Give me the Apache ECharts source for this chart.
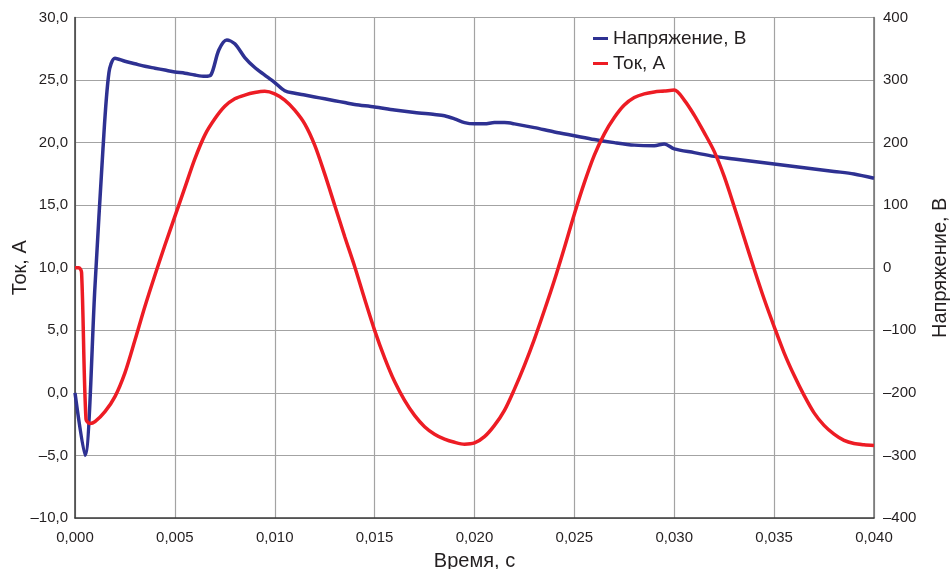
<!DOCTYPE html>
<html>
<head>
<meta charset="utf-8">
<script src="https://cdn.jsdelivr.net/npm/echarts@6/dist/echarts.min.js"></script>
<style>
    html, body { margin: 0; padding: 0; background: #fff; }
    #chart { width: 952px; height: 569px; }
</style>
</head>
<body>
<div id="chart"></div>
<script>
var seriesNames = ['Напряжение, В', 'Ток, А'];

// Ток, А (левая ось)
var currentTime = [0, 0.0002, 0.00033, 0.00055, 0.00075, 0.001, 0.0015, 0.002, 0.0025, 0.003,
    0.0035, 0.004, 0.0045, 0.005, 0.0055, 0.006, 0.0065, 0.007, 0.0075, 0.008,
    0.0085, 0.009, 0.0095, 0.010, 0.0105, 0.011, 0.0115, 0.012, 0.0125, 0.013,
    0.0135, 0.014, 0.0145, 0.015, 0.0155, 0.016, 0.0165, 0.017, 0.0175, 0.018,
    0.0185, 0.019, 0.0195, 0.020, 0.0205, 0.021, 0.0215, 0.022, 0.0225, 0.023,
    0.0235, 0.024, 0.0245, 0.025, 0.0255, 0.026, 0.0265, 0.027, 0.0275, 0.028,
    0.0285, 0.029, 0.0295, 0.030, 0.0305, 0.031, 0.0315, 0.032, 0.0325, 0.033,
    0.0335, 0.034, 0.0345, 0.035, 0.0355, 0.036, 0.0365, 0.037, 0.0375, 0.038,
    0.0385, 0.039, 0.0395, 0.040];
var currentValues = [10.0, 10.0, 9.6, -2.1, -2.45, -2.3, -1.5, -0.3, 1.6, 4.2,
    6.9, 9.4, 11.8, 14.1, 16.4, 18.7, 20.6, 21.9, 22.9, 23.5,
    23.8, 24.0, 24.1, 23.9, 23.4, 22.6, 21.5, 19.8, 17.5, 15.0,
    12.5, 10.1, 7.5, 5.0, 2.8, 0.9, -0.6, -1.8, -2.7, -3.3,
    -3.7, -3.95, -4.1, -4.0, -3.5, -2.6, -1.4, 0.3, 2.2, 4.3,
    6.6, 9.0, 11.6, 14.3, 16.8, 19.0, 20.7, 22.0, 23.0, 23.6,
    23.9, 24.05, 24.12, 24.2, 23.4, 22.2, 20.8, 19.3, 17.3, 14.9,
    12.4, 9.9, 7.5, 5.3, 3.2, 1.4, -0.2, -1.6, -2.6, -3.3,
    -3.8, -4.05, -4.15, -4.2];

// Напряжение, В (правая ось)
var voltageTime = [0, 0.0005, 0.001, 0.0014, 0.0017, 0.002, 0.0025, 0.003, 0.0035, 0.004,
    0.0045, 0.005, 0.0055, 0.006, 0.0065, 0.0068, 0.0072, 0.0076, 0.008, 0.0085,
    0.009, 0.0095, 0.010, 0.0105, 0.011, 0.0115, 0.012, 0.0125, 0.013, 0.0135,
    0.014, 0.015, 0.016, 0.017, 0.018, 0.0185, 0.019, 0.0195, 0.020, 0.0205,
    0.021, 0.0215, 0.022, 0.023, 0.024, 0.025, 0.026, 0.027, 0.028, 0.029,
    0.0295, 0.030, 0.031, 0.032, 0.033, 0.034, 0.035, 0.036, 0.037, 0.038,
    0.039, 0.040];
var voltageValues = [-200, -300, -30, 190, 312, 335, 330, 326, 322, 319,
    316, 313, 311, 308, 306, 308, 348, 364, 358, 336,
    320, 308, 296, 283, 279, 276, 273, 270, 267, 264,
    261, 257, 252, 248, 245, 243, 238, 232, 230, 230,
    232, 232, 230, 224, 217, 211, 205, 200, 196, 195,
    198, 190, 184, 178, 174, 170, 166, 162, 158, 154,
    150, 143];

function pairs(xs, ys) {
    return xs.map(function (x, i) { return [x, ys[i]]; });
}

function dash(s) {
    return s.replace('-', '–');
}

var font = "'Liberation Sans', Arial, sans-serif";
var textColor = '#231f20';

var dom = document.getElementById('chart');
var myChart = echarts.init(dom);
myChart.setOption({
    animation: false,
    textStyle: { fontFamily: font },
    grid: { left: 75, right: 78, top: 17.5, bottom: 51, outerBoundsMode: 'none', containLabel: false },
    legend: {
        orient: 'vertical',
        left: 588,
        top: 24,
        itemWidth: 15,
        itemHeight: 3,
        itemGap: 6,
        icon: 'rect',
        data: seriesNames,
        textStyle: { fontFamily: font, fontSize: 19, color: textColor }
    },
    xAxis: {
        type: 'value',
        min: 0,
        max: 0.04,
        interval: 0.005,
        name: 'Время, с',
        nameLocation: 'middle',
        nameGap: 33,
        nameMoveOverlap: false,
        nameTextStyle: { fontFamily: font, fontSize: 20, color: textColor },
        axisLine: { onZero: false, lineStyle: { color: '#3a3a3a', width: 1.5 } },
        axisTick: { show: false },
        axisLabel: {
            margin: 12,
            fontSize: 15,
            color: textColor,
            formatter: function (v) { return v.toFixed(3).replace('.', ','); }
        },
        splitLine: { show: true, lineStyle: { color: '#a3a3a3', width: 1.2 } }
    },
    yAxis: [
        {
            type: 'value',
            min: -10,
            max: 30,
            interval: 5,
            name: 'Ток, А',
            nameLocation: 'middle',
            nameGap: 45,
            nameMoveOverlap: false,
            nameTextStyle: { fontFamily: font, fontSize: 20, color: textColor },
            axisLine: { show: true, onZero: false, lineStyle: { color: '#3a3a3a', width: 1.5 } },
            axisTick: { show: false },
            axisLabel: {
                margin: 7,
                fontSize: 15,
                color: textColor,
                formatter: function (v) { return dash(v.toFixed(1).replace('.', ',')); }
            },
            splitLine: { show: true, lineStyle: { color: '#a3a3a3', width: 1.2 } }
        },
        {
            type: 'value',
            min: -400,
            max: 400,
            interval: 100,
            name: 'Напряжение, В',
            nameLocation: 'middle',
            nameGap: 56,
            nameMoveOverlap: false,
            nameTextStyle: { fontFamily: font, fontSize: 20, color: textColor },
            axisLine: { show: true, onZero: false, lineStyle: { color: '#707070', width: 1.5 } },
            axisTick: { show: false },
            axisLabel: {
                margin: 9,
                fontSize: 15,
                color: textColor,
                formatter: function (v) { return dash(String(v)); }
            },
            splitLine: { show: false }
        }
    ],
    series: [
        {
            name: seriesNames[0],
            type: 'line',
            yAxisIndex: 1,
            data: pairs(voltageTime, voltageValues),
            showSymbol: false,
            smooth: 0.3,
            color: '#2e3192',
            lineStyle: { width: 3.5, color: '#2e3192' }
        },
        {
            name: seriesNames[1],
            type: 'line',
            yAxisIndex: 0,
            data: pairs(currentTime, currentValues),
            showSymbol: false,
            smooth: 0.3,
            color: '#ed1c24',
            lineStyle: { width: 3.5, color: '#ed1c24' }
        }
    ]
});
</script>
</body>
</html>
